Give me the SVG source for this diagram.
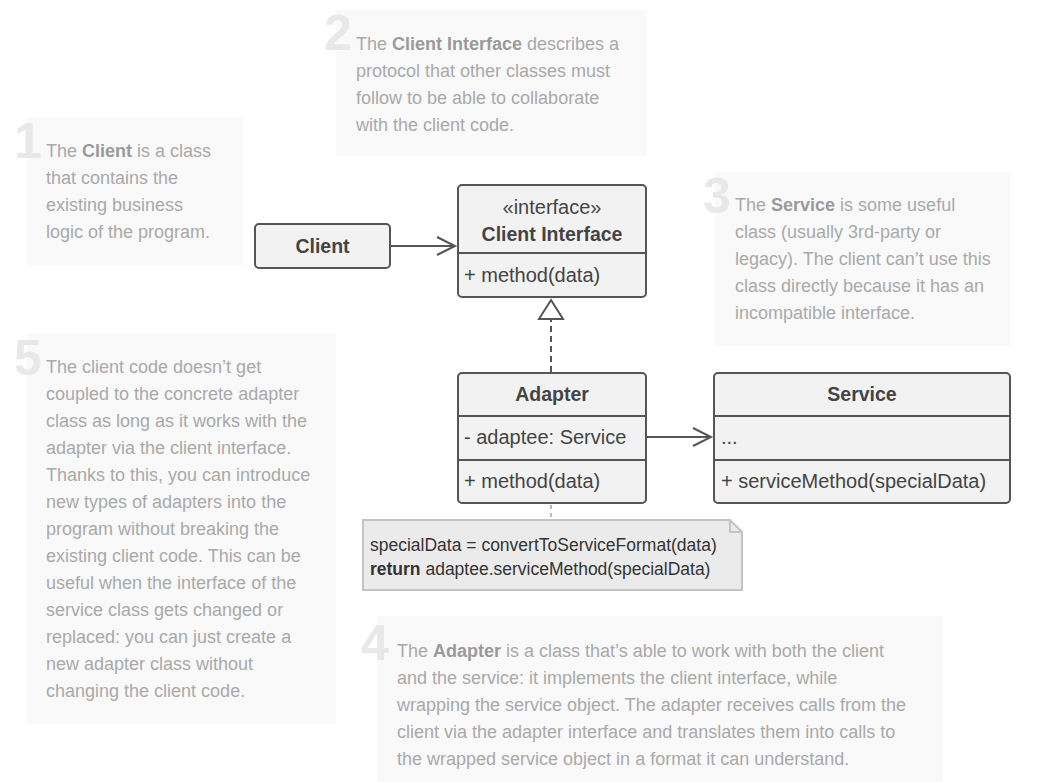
<svg xmlns="http://www.w3.org/2000/svg" width="1047" height="782" viewBox="0 0 1047 782">
<style>
.bg{fill:#f9f9f9}
.num{font-family:"Liberation Sans",Arial,sans-serif;font-size:50px;font-weight:bold;fill:#e8e8e8}
.nt{font-family:"Liberation Sans",Arial,sans-serif;font-size:18px;fill:#a9a9a9}
.nt .b{font-weight:bold;fill:#9a9a9a}
.box{fill:#f2f2f2;stroke:#555;stroke-width:2}
.div{stroke:#555;stroke-width:2}
.t{font-family:"Liberation Sans",Arial,sans-serif;font-size:20px;fill:#444}
.tb{font-family:"Liberation Sans",Arial,sans-serif;font-size:19.5px;font-weight:bold;fill:#444;text-anchor:middle}
.ln{stroke:#555;stroke-width:2;fill:none}
.code{font-family:"Liberation Sans",Arial,sans-serif;font-size:17.5px;fill:#333}
</style>
<defs>
<marker id="open" markerWidth="24" markerHeight="24" refX="20" refY="10" orient="auto" markerUnits="userSpaceOnUse">
<path d="M2,1 L20,10 L2,19" fill="none" stroke="#555" stroke-width="2"/>
</marker>
</defs>
<rect width="1047" height="782" fill="#ffffff"/>

<g id="note1">
<rect class="bg" x="27" y="117" width="216" height="148"/>
<text class="num" x="14" y="158">1</text>
<text class="nt" x="46" y="157"><tspan>The </tspan><tspan class="b">Client</tspan><tspan> is a class</tspan></text>
<text class="nt" x="46" y="184">that contains the</text>
<text class="nt" x="46" y="211">existing business</text>
<text class="nt" x="46" y="238">logic of the program.</text>
</g>

<g id="note2">
<rect class="bg" x="336" y="10" width="311" height="146"/>
<text class="num" x="324" y="50">2</text>
<text class="nt" x="356" y="50"><tspan>The </tspan><tspan class="b">Client Interface</tspan><tspan> describes a</tspan></text>
<text class="nt" x="356" y="77">protocol that other classes must</text>
<text class="nt" x="356" y="104">follow to be able to collaborate</text>
<text class="nt" x="356" y="131">with the client code.</text>
</g>

<g id="note3">
<rect class="bg" x="715" y="172" width="295" height="174"/>
<text class="num" x="703" y="213">3</text>
<text class="nt" x="735" y="211"><tspan>The </tspan><tspan class="b">Service</tspan><tspan> is some useful</tspan></text>
<text class="nt" x="735" y="238">class (usually 3rd-party or</text>
<text class="nt" x="735" y="265">legacy). The client can’t use this</text>
<text class="nt" x="735" y="292">class directly because it has an</text>
<text class="nt" x="735" y="319">incompatible interface.</text>
</g>

<g id="note5">
<rect class="bg" x="27" y="333" width="309" height="391"/>
<text class="num" x="14" y="375">5</text>
<text class="nt" x="46" y="373">The client code doesn’t get</text>
<text class="nt" x="46" y="400">coupled to the concrete adapter</text>
<text class="nt" x="46" y="427">class as long as it works with the</text>
<text class="nt" x="46" y="454">adapter via the client interface.</text>
<text class="nt" x="46" y="481">Thanks to this, you can introduce</text>
<text class="nt" x="46" y="508">new types of adapters into the</text>
<text class="nt" x="46" y="535">program without breaking the</text>
<text class="nt" x="46" y="562">existing client code. This can be</text>
<text class="nt" x="46" y="589">useful when the interface of the</text>
<text class="nt" x="46" y="616">service class gets changed or</text>
<text class="nt" x="46" y="643">replaced: you can just create a</text>
<text class="nt" x="46" y="670">new adapter class without</text>
<text class="nt" x="46" y="697">changing the client code.</text>
</g>

<g id="note4">
<rect class="bg" x="377" y="616" width="566" height="166"/>
<text class="num" x="361" y="660">4</text>
<text class="nt" x="397" y="657"><tspan>The </tspan><tspan class="b">Adapter</tspan><tspan> is a class that’s able to work with both the client</tspan></text>
<text class="nt" x="397" y="684">and the service: it implements the client interface, while</text>
<text class="nt" x="397" y="711">wrapping the service object. The adapter receives calls from the</text>
<text class="nt" x="397" y="738">client via the adapter interface and translates them into calls to</text>
<text class="nt" x="397" y="765">the wrapped service object in a format it can understand.</text>
</g>

<g id="connectors">
<line class="ln" x1="391" y1="246" x2="455" y2="246" marker-end="url(#open)"/>
<line class="ln" x1="647" y1="437" x2="711" y2="437" marker-end="url(#open)"/>
<line class="ln" x1="551" y1="372" x2="551" y2="320" stroke-dasharray="6,4"/>
<path d="M551,300 L563,319 L539,319 Z" fill="#ffffff" stroke="#555" stroke-width="2"/>
<line x1="551" y1="505" x2="551" y2="520" stroke="#bbb" stroke-width="2" stroke-dasharray="4,4"/>
</g>

<g id="client">
<rect class="box" x="255" y="224" width="135" height="44" rx="4"/>
<text class="tb" x="322.5" y="253">Client</text>
</g>

<g id="clientInterface">
<rect class="box" x="458" y="185" width="188" height="112" rx="4"/>
<line class="div" x1="458" y1="253" x2="646" y2="253"/>
<text class="t" x="552" y="214" text-anchor="middle">«interface»</text>
<text class="tb" x="552" y="241">Client Interface</text>
<text class="t" x="464" y="282">+ method(data)</text>
</g>

<g id="adapter">
<rect class="box" x="458" y="373" width="188" height="130" rx="4"/>
<line class="div" x1="458" y1="416" x2="646" y2="416"/>
<line class="div" x1="458" y1="460" x2="646" y2="460"/>
<text class="tb" x="552" y="401">Adapter</text>
<text class="t" x="464" y="444">- adaptee: Service</text>
<text class="t" x="464" y="488">+ method(data)</text>
</g>

<g id="service">
<rect class="box" x="714" y="373" width="296" height="130" rx="4"/>
<line class="div" x1="714" y1="416" x2="1010" y2="416"/>
<line class="div" x1="714" y1="460" x2="1010" y2="460"/>
<text class="tb" x="862" y="401">Service</text>
<text class="t" x="721" y="444">...</text>
<text class="t" x="721" y="488">+ serviceMethod(specialData)</text>
</g>

<g id="codeNote">
<path d="M363,520 L730,520 L742,532 L742,590 L363,590 Z" fill="#ebebeb" stroke="#c4c4c4" stroke-width="2"/>
<path d="M730,520 L730,532 L742,532" fill="none" stroke="#c4c4c4" stroke-width="2"/>
<text class="code" x="370" y="551">specialData = convertToServiceFormat(data)</text>
<text class="code" x="370" y="575"><tspan font-weight="bold">return</tspan> adaptee.serviceMethod(specialData)</text>
</g>
</svg>
